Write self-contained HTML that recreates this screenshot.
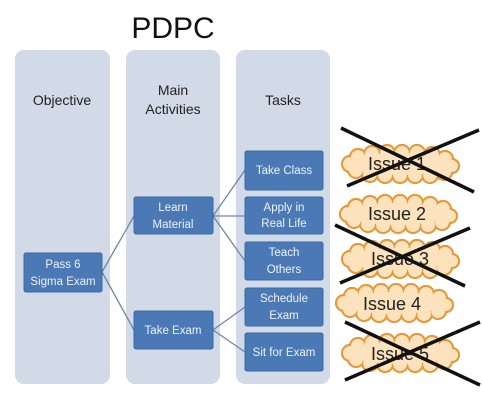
<!DOCTYPE html>
<html><head><style>
body{margin:0;background:#fff;width:482px;height:404px;overflow:hidden;font-family:"Liberation Sans",sans-serif}
</style></head><body>
<svg width="482" height="404" xmlns="http://www.w3.org/2000/svg" font-family="Liberation Sans, sans-serif">
<defs>
<g id="cl">
<g stroke="#e39a3a" stroke-width="2.2" fill="#fcdcae">
<circle cx="-50" cy="0" r="8"/><circle cx="-42" cy="-7" r="8"/><circle cx="-28" cy="-10" r="8"/><circle cx="-13" cy="-11" r="8"/><circle cx="2" cy="-11" r="8"/><circle cx="17" cy="-11" r="8"/><circle cx="32" cy="-9" r="8"/><circle cx="45" cy="-5" r="8"/><circle cx="52" cy="2" r="7"/><circle cx="44" cy="8" r="8"/><circle cx="30" cy="11" r="8"/><circle cx="15" cy="11" r="8"/><circle cx="0" cy="11" r="8"/><circle cx="-15" cy="11" r="8"/><circle cx="-30" cy="10" r="8"/><circle cx="-44" cy="6" r="8"/>
</g>
<g fill="#fde3bd">
<circle cx="-50" cy="0" r="6.9"/><circle cx="-42" cy="-7" r="6.9"/><circle cx="-28" cy="-10" r="6.9"/><circle cx="-13" cy="-11" r="6.9"/><circle cx="2" cy="-11" r="6.9"/><circle cx="17" cy="-11" r="6.9"/><circle cx="32" cy="-9" r="6.9"/><circle cx="45" cy="-5" r="6.9"/><circle cx="52" cy="2" r="5.9"/><circle cx="44" cy="8" r="6.9"/><circle cx="30" cy="11" r="6.9"/><circle cx="15" cy="11" r="6.9"/><circle cx="0" cy="11" r="6.9"/><circle cx="-15" cy="11" r="6.9"/><circle cx="-30" cy="10" r="6.9"/><circle cx="-44" cy="6" r="6.9"/>
<ellipse cx="0" cy="0" rx="50" ry="11"/>
</g>
</g>
</defs>
<text x="173" y="38" font-size="30" text-anchor="middle" fill="#111">PDPC</text>
<g fill="#d2dae8">
<rect x="15" y="50" width="95" height="334" rx="9"/>
<rect x="126" y="50" width="94" height="334" rx="9"/>
<rect x="236" y="50" width="94" height="334" rx="9"/>
</g>
<g font-size="14" fill="#222" text-anchor="middle">
<text x="62" y="105">Objective</text>
<text x="173" y="95">Main</text><text x="173" y="114">Activities</text>
<text x="283" y="105">Tasks</text>
</g>
<g stroke="#6f86a8" stroke-width="1.3" fill="none">
<path d="M102 272 L134 216 M102 272 L134 330 M213 216 L245 170 M213 216 L245 216 M213 216 L245 261 M213 330 L245 307 M213 330 L245 352"/>
</g>
<g fill="#4a79b5" stroke="#3a6aa6">
<rect x="24" y="253" width="78" height="39" rx="2"/>
<rect x="134" y="197" width="79" height="37" rx="2"/>
<rect x="134" y="311" width="79" height="38" rx="2"/>
<rect x="245" y="151" width="78" height="39" rx="2"/>
<rect x="245" y="197" width="78" height="37" rx="2"/>
<rect x="245" y="242" width="78" height="38" rx="2"/>
<rect x="245" y="288" width="78" height="38" rx="2"/>
<rect x="245" y="333" width="78" height="38" rx="2"/>
</g>
<g font-size="11.5" fill="#eef2f8" text-anchor="middle">
<text x="63" y="268">Pass 6</text><text x="63" y="285">Sigma Exam</text>
<text x="173" y="211">Learn</text><text x="173" y="228">Material</text>
<text x="173" y="334">Take Exam</text>
<text x="284" y="174">Take Class</text>
<text x="284" y="211">Apply in</text><text x="284" y="227">Real Life</text>
<text x="284" y="256">Teach</text><text x="284" y="273">Others</text>
<text x="284" y="302">Schedule</text><text x="284" y="319">Exam</text>
<text x="284" y="356">Sit for Exam</text>
</g>
<use href="#cl" x="400" y="164"/>
<use href="#cl" x="398" y="214"/>
<use href="#cl" x="400" y="259"/>
<use href="#cl" x="394" y="303"/>
<use href="#cl" x="400" y="353"/>
<g font-size="18" fill="#222" text-anchor="middle">
<text x="397" y="170">Issue 1</text>
<text x="397" y="220">Issue 2</text>
<text x="400" y="265">Issue 3</text>
<text x="392" y="310">Issue 4</text>
<text x="400" y="360">Issue 5</text>
</g>
<g stroke="#111" stroke-width="3.5">
<path d="M341 128 L474 192 M347 186 L479 130"/>
<path d="M335 225 L465 286 M340 283 L470 228"/>
<path d="M345 322 L480 385 M345 380 L480 322"/>
</g>
</svg>
</body></html>
